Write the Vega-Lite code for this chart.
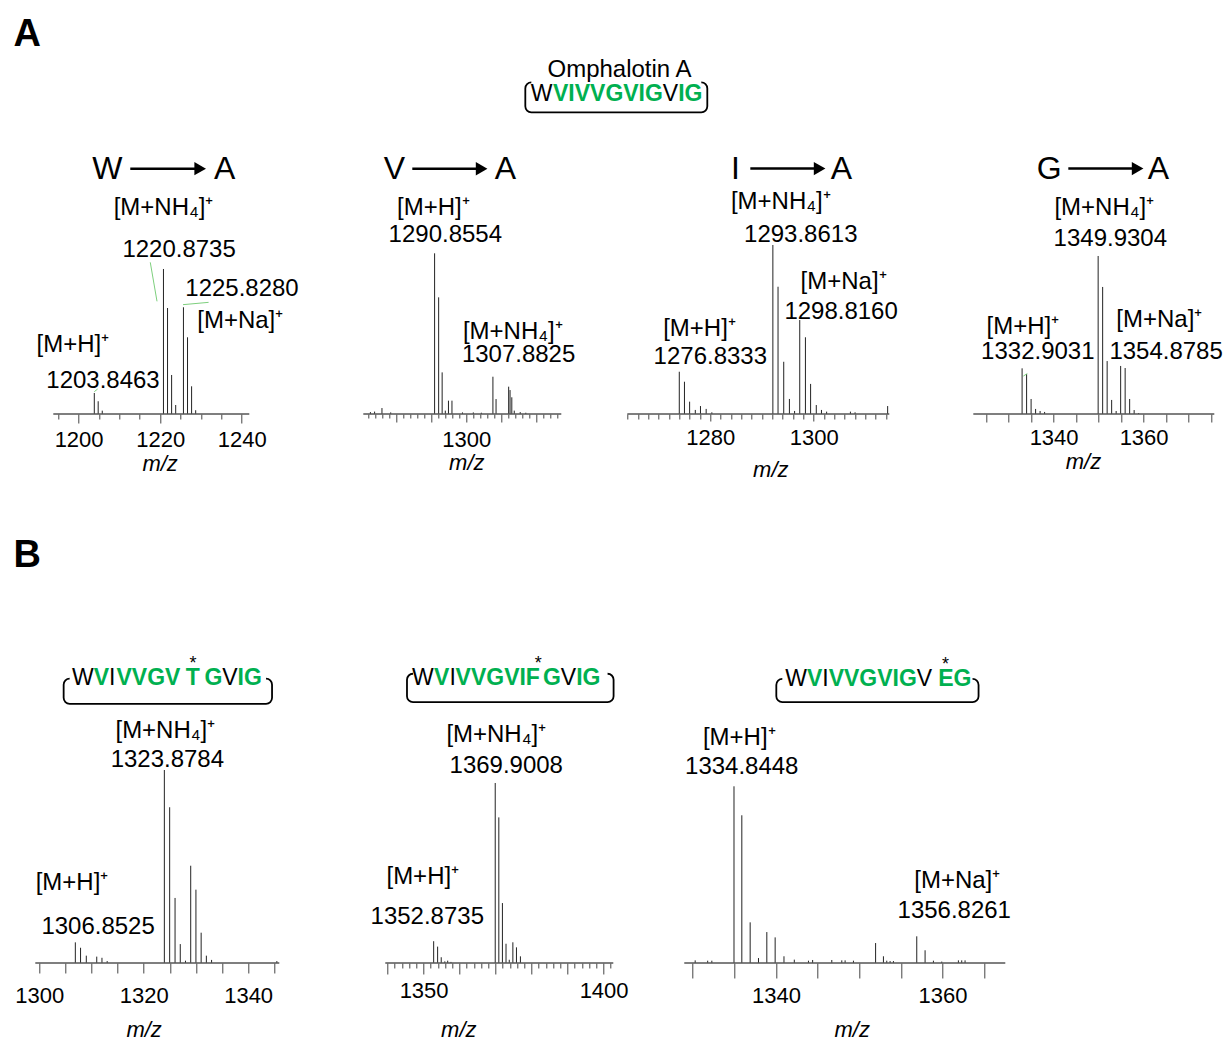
{
"$schema": "https://vega.github.io/schema/vega-lite/v6.json",
"background": "white",
"padding": {"left": 13.3, "top": 15, "right": 10, "bottom": 5},
"datasets": {
"peaks": [
{"panel":"A1","mz":1203.85,"intensity":14.5},{"panel":"A1","mz":1204.8,"intensity":8.8},{"panel":"A1","mz":1205.8,"intensity":2.3},{"panel":"A1","mz":1220.8,"intensity":100},{"panel":"A1","mz":1221.8,"intensity":73.1},{"panel":"A1","mz":1222.8,"intensity":26.9},{"panel":"A1","mz":1223.8,"intensity":6.2},{"panel":"A1","mz":1225.7,"intensity":73.6},{"panel":"A1","mz":1226.7,"intensity":52.9},{"panel":"A1","mz":1227.7,"intensity":19.1},{"panel":"A1","mz":1228.7,"intensity":2.6},
{"panel":"A2","mz":1272.6,"intensity":1.2},{"panel":"A2","mz":1273.8,"intensity":1.5},{"panel":"A2","mz":1275.9,"intensity":3.7},{"panel":"A2","mz":1278.4,"intensity":1.0},{"panel":"A2","mz":1290.94,"intensity":100},{"panel":"A2","mz":1292.1,"intensity":72.6},{"panel":"A2","mz":1293.1,"intensity":25.9},{"panel":"A2","mz":1294.0,"intensity":2.1},{"panel":"A2","mz":1294.9,"intensity":8.3},{"panel":"A2","mz":1295.9,"intensity":8.3},{"panel":"A2","mz":1298.9,"intensity":1.0},{"panel":"A2","mz":1302.0,"intensity":1.0},{"panel":"A2","mz":1304.3,"intensity":0.8},{"panel":"A2","mz":1307.6,"intensity":23.2},{"panel":"A2","mz":1308.5,"intensity":9.3},{"panel":"A2","mz":1312.1,"intensity":17.0},{"panel":"A2","mz":1312.5,"intensity":14.9},{"panel":"A2","mz":1313.0,"intensity":10.4},{"panel":"A2","mz":1313.7,"intensity":2.1},{"panel":"A2","mz":1315.4,"intensity":1.2},{"panel":"A2","mz":1317.0,"intensity":0.8},
{"panel":"A3","mz":1274.0,"intensity":25.0},{"panel":"A3","mz":1275.0,"intensity":19.1},{"panel":"A3","mz":1276.0,"intensity":7.3},{"panel":"A3","mz":1277.1,"intensity":2.4},{"panel":"A3","mz":1278.1,"intensity":4.7},{"panel":"A3","mz":1279.2,"intensity":3.0},{"panel":"A3","mz":1280.3,"intensity":1.0},{"panel":"A3","mz":1292.1,"intensity":100},{"panel":"A3","mz":1293.1,"intensity":75.3},{"panel":"A3","mz":1294.2,"intensity":30.9},{"panel":"A3","mz":1295.3,"intensity":8.9},{"panel":"A3","mz":1296.3,"intensity":1.8},{"panel":"A3","mz":1297.3,"intensity":55.6},{"panel":"A3","mz":1298.4,"intensity":45.4},{"panel":"A3","mz":1299.4,"intensity":17.8},{"panel":"A3","mz":1300.5,"intensity":5.3},{"panel":"A3","mz":1301.5,"intensity":2.4},{"panel":"A3","mz":1302.5,"intensity":1.4},{"panel":"A3","mz":1307.1,"intensity":1.4},{"panel":"A3","mz":1308.0,"intensity":1.0},{"panel":"A3","mz":1314.3,"intensity":4.7},
{"panel":"A4","mz":1333.0,"intensity":28.9},{"panel":"A4","mz":1334.0,"intensity":25.3},{"panel":"A4","mz":1335.0,"intensity":9.5},{"panel":"A4","mz":1336.0,"intensity":3.2},{"panel":"A4","mz":1337.0,"intensity":1.9},{"panel":"A4","mz":1338.0,"intensity":1.3},{"panel":"A4","mz":1349.9,"intensity":100},{"panel":"A4","mz":1350.9,"intensity":80.4},{"panel":"A4","mz":1351.9,"intensity":33.5},{"panel":"A4","mz":1352.9,"intensity":8.9},{"panel":"A4","mz":1353.9,"intensity":1.9},{"panel":"A4","mz":1354.9,"intensity":30.4},{"panel":"A4","mz":1355.9,"intensity":29.1},{"panel":"A4","mz":1356.9,"intensity":9.5},{"panel":"A4","mz":1357.9,"intensity":2.5},{"panel":"A4","mz":1358.9,"intensity":0.6},
{"panel":"B1","mz":1306.9,"intensity":10.7},{"panel":"B1","mz":1307.9,"intensity":7.9},{"panel":"B1","mz":1309.0,"intensity":3.8},{"panel":"B1","mz":1311.0,"intensity":3.3},{"panel":"B1","mz":1312.0,"intensity":2.7},{"panel":"B1","mz":1313.0,"intensity":1.0},{"panel":"B1","mz":1323.95,"intensity":100},{"panel":"B1","mz":1324.97,"intensity":80.7},{"panel":"B1","mz":1326.0,"intensity":33.7},{"panel":"B1","mz":1327.0,"intensity":9.8},{"panel":"B1","mz":1328.0,"intensity":1.2},{"panel":"B1","mz":1329.0,"intensity":50.4},{"panel":"B1","mz":1330.0,"intensity":38.0},{"panel":"B1","mz":1331.0,"intensity":15.7},{"panel":"B1","mz":1332.0,"intensity":3.8},{"panel":"B1","mz":1333.0,"intensity":1.6},{"panel":"B1","mz":1345.5,"intensity":1.0},
{"panel":"B2","mz":1352.8,"intensity":12.1},{"panel":"B2","mz":1353.9,"intensity":9.1},{"panel":"B2","mz":1354.9,"intensity":3.2},{"panel":"B2","mz":1355.9,"intensity":0.9},{"panel":"B2","mz":1356.7,"intensity":1.3},{"panel":"B2","mz":1357.6,"intensity":0.6},{"panel":"B2","mz":1369.9,"intensity":100},{"panel":"B2","mz":1370.9,"intensity":80.9},{"panel":"B2","mz":1371.9,"intensity":33.3},{"panel":"B2","mz":1372.9,"intensity":10.7},{"panel":"B2","mz":1373.8,"intensity":1.8},{"panel":"B2","mz":1374.8,"intensity":11.5},{"panel":"B2","mz":1375.8,"intensity":8.7},{"panel":"B2","mz":1376.9,"intensity":3.7},
{"panel":"B3","mz":1330.3,"intensity":1.5},{"panel":"B3","mz":1331.8,"intensity":1.3},{"panel":"B3","mz":1332.3,"intensity":1.3},{"panel":"B3","mz":1334.96,"intensity":100},{"panel":"B3","mz":1335.9,"intensity":83.6},{"panel":"B3","mz":1336.9,"intensity":23.0},{"panel":"B3","mz":1337.9,"intensity":2.8},{"panel":"B3","mz":1338.9,"intensity":17.5},{"panel":"B3","mz":1339.9,"intensity":14.5},{"panel":"B3","mz":1340.96,"intensity":3.8},{"panel":"B3","mz":1342.2,"intensity":1.9},{"panel":"B3","mz":1343.9,"intensity":1.3},{"panel":"B3","mz":1344.4,"intensity":1.7},{"panel":"B3","mz":1346.7,"intensity":1.7},{"panel":"B3","mz":1347.9,"intensity":1.5},{"panel":"B3","mz":1348.3,"intensity":1.5},{"panel":"B3","mz":1349.3,"intensity":1.3},{"panel":"B3","mz":1351.96,"intensity":11.3},{"panel":"B3","mz":1352.9,"intensity":3.8},{"panel":"B3","mz":1353.3,"intensity":1.3},{"panel":"B3","mz":1353.7,"intensity":1.1},{"panel":"B3","mz":1354.1,"intensity":1.1},{"panel":"B3","mz":1356.9,"intensity":15.1},{"panel":"B3","mz":1357.9,"intensity":7.2},{"panel":"B3","mz":1358.9,"intensity":1.3},{"panel":"B3","mz":1359.9,"intensity":0.8},{"panel":"B3","mz":1361.9,"intensity":1.5},{"panel":"B3","mz":1362.3,"intensity":1.5},{"panel":"B3","mz":1362.7,"intensity":1.5}
],
"ann": [
{"panel":"A1","role":"panel","text":"A","mz":1187.43,"y":254.0},
{"panel":"A1","role":"title","text":"W","mz":1207.03,"y":162.3},
{"panel":"A1","role":"title","text":"A","mz":1235.83,"y":162.3},
{"panel":"A1","role":"label","text":"[M+NH\u2084]\u207A","mz":1220.83,"y":137.4},
{"panel":"A1","role":"label","text":"1220.8735","mz":1224.63,"y":108.5},
{"panel":"A1","role":"label","text":"1225.8280","mz":1240.05,"y":81.6},
{"panel":"A1","role":"label","text":"[M+Na]\u207A","mz":1239.63,"y":59.5},
{"panel":"A1","role":"label","text":"[M+H]\u207A","mz":1198.58,"y":43.0},
{"panel":"A1","role":"label","text":"1203.8463","mz":1205.98,"y":18.1},
{"panel":"A2","role":"title","text":"V","mz":1279.43,"y":146.4},
{"panel":"A2","role":"title","text":"A","mz":1311.14,"y":146.4},
{"panel":"A2","role":"label","text":"[M+H]\u207A","mz":1290.57,"y":124.0},
{"panel":"A2","role":"label","text":"1290.8554","mz":1294.0,"y":107.2},
{"panel":"A2","role":"label","text":"[M+NH\u2084]\u207A","mz":1313.29,"y":46.9},
{"panel":"A2","role":"label","text":"1307.8825","mz":1314.94,"y":32.5},
{"panel":"A3","role":"title","text":"I","mz":1284.84,"y":139.2},
{"panel":"A3","role":"title","text":"A","mz":1305.34,"y":139.2},
{"panel":"A3","role":"label","text":"[M+NH\u2084]\u207A","mz":1293.64,"y":121.5},
{"panel":"A3","role":"label","text":"1293.8613","mz":1297.5,"y":102.0},
{"panel":"A3","role":"label","text":"[M+Na]\u207A","mz":1305.78,"y":74.1},
{"panel":"A3","role":"label","text":"1298.8160","mz":1305.3,"y":56.4},
{"panel":"A3","role":"label","text":"[M+H]\u207A","mz":1277.91,"y":46.3},
{"panel":"A3","role":"label","text":"1276.8333","mz":1280.0,"y":29.8},
{"panel":"A3","role":"label","text":"Omphalotin A","mz":1262.44,"y":199.2},
{"panel":"A3","role":"seq","text":"W","mz":1247.36,"y":185.4},
{"panel":"A3","role":"mut","text":"VIVVGVIG","mz":1260.2,"y":185.4},
{"panel":"A3","role":"seq","text":"V","mz":1272.31,"y":185.4},
{"panel":"A3","role":"mut","text":"IG","mz":1276.14,"y":185.4},
{"panel":"A4","role":"title","text":"G","mz":1339.04,"y":148.9},
{"panel":"A4","role":"title","text":"A","mz":1363.27,"y":148.9},
{"panel":"A4","role":"label","text":"[M+NH\u2084]\u207A","mz":1351.27,"y":126.1},
{"panel":"A4","role":"label","text":"1349.9304","mz":1352.6,"y":106.5},
{"panel":"A4","role":"label","text":"[M+H]\u207A","mz":1333.16,"y":50.8},
{"panel":"A4","role":"label","text":"1332.9031","mz":1336.49,"y":35.0},
{"panel":"A4","role":"label","text":"[M+Na]\u207A","mz":1363.49,"y":55.3},
{"panel":"A4","role":"label","text":"1354.8785","mz":1365.0,"y":35.0},
{"panel":"B1","role":"panel","text":"B","mz":1297.7,"y":205.4},
{"panel":"B1","role":"seq","text":"W","mz":1308.34,"y":143.8},
{"panel":"B1","role":"mut","text":"V","mz":1311.88,"y":143.8},
{"panel":"B1","role":"seq","text":"I","mz":1313.96,"y":143.8},
{"panel":"B1","role":"mut","text":"VVGV","mz":1320.9,"y":143.8},
{"panel":"B1","role":"mut","text":"T","mz":1329.41,"y":143.8},
{"panel":"B1","role":"mut","text":"G","mz":1333.33,"y":143.8},
{"panel":"B1","role":"seq","text":"V","mz":1336.5,"y":143.8},
{"panel":"B1","role":"mut","text":"IG","mz":1340.29,"y":143.8},
{"panel":"B1","role":"star","text":"*","mz":1329.44,"y":152.1},
{"panel":"B1","role":"label","text":"[M+NH\u2084]\u207A","mz":1324.14,"y":116.8},
{"panel":"B1","role":"label","text":"1323.8784","mz":1324.52,"y":101.8},
{"panel":"B1","role":"label","text":"[M+H]\u207A","mz":1306.26,"y":37.6},
{"panel":"B1","role":"label","text":"1306.8525","mz":1311.26,"y":15.1},
{"panel":"B2","role":"seq","text":"W","mz":1349.76,"y":154.2},
{"panel":"B2","role":"mut","text":"V","mz":1355.0,"y":154.2},
{"panel":"B2","role":"seq","text":"I","mz":1358.11,"y":154.2},
{"panel":"B2","role":"mut","text":"VVGVIF","mz":1370.6,"y":154.2},
{"panel":"B2","role":"mut","text":"G","mz":1385.65,"y":154.2},
{"panel":"B2","role":"seq","text":"V","mz":1390.26,"y":154.2},
{"panel":"B2","role":"mut","text":"IG","mz":1395.76,"y":154.2},
{"panel":"B2","role":"star","text":"*","mz":1381.86,"y":163.1},
{"panel":"B2","role":"label","text":"[M+NH\u2084]\u207A","mz":1370.19,"y":122.5},
{"panel":"B2","role":"label","text":"1369.9008","mz":1372.97,"y":105.8},
{"panel":"B2","role":"label","text":"[M+H]\u207A","mz":1349.78,"y":44.0},
{"panel":"B2","role":"label","text":"1352.8735","mz":1351.03,"y":21.8},
{"panel":"B3","role":"seq","text":"W","mz":1342.42,"y":157.0},
{"panel":"B3","role":"mut","text":"V","mz":1344.64,"y":157.0},
{"panel":"B3","role":"seq","text":"I","mz":1345.95,"y":157.0},
{"panel":"B3","role":"mut","text":"VVGVIG","mz":1351.62,"y":157.0},
{"panel":"B3","role":"seq","text":"V","mz":1357.83,"y":157.0},
{"panel":"B3","role":"mut","text":"EG","mz":1361.48,"y":157.0},
{"panel":"B3","role":"star","text":"*","mz":1360.36,"y":166.1},
{"panel":"B3","role":"label","text":"[M+H]\u207A","mz":1335.59,"y":123.1},
{"panel":"B3","role":"label","text":"1334.8448","mz":1335.89,"y":107.2},
{"panel":"B3","role":"label","text":"[M+Na]\u207A","mz":1361.76,"y":42.2},
{"panel":"B3","role":"label","text":"1356.8261","mz":1361.4,"y":25.2}
]
},
"spacing": 519,
"bounds": "flush",
"vconcat": [
{
"spacing": 0,
"bounds": "flush",
"hconcat": [
{
"width": 214, "height": 170,
"layer": [
{"data":{"name":"peaks"},"transform":[{"filter":"datum.panel === 'A1'"}],"mark":{"type":"rule","color":"#222222","strokeWidth":1},
"encoding":{"x":{"field":"mz","type":"quantitative","scale":{"domain":[1189.39,1241.84],"nice":false,"zero":false},"axis":{"title":"m/z","values":[1195,1200,1205,1210,1215,1220,1225,1230,1235,1240],"tickCount":500,"format":"d","labelExpr":"datum.value % 20 === 0 ? datum.label : ''","labelOverlap":false,"tickSize":{"condition":{"test":"datum.value % 20 === 0","value":9},"value":5},"labelPadding":23.7,"titleX":124.3,"titleY":56}},
"y":{"field":"intensity","type":"quantitative","scale":{"domain":[0,117.24],"nice":false},"axis":null},"y2":{"datum":0}}},
{"data":{"values":[{}]},"mark":{"type":"rule","color":"#555555","strokeWidth":1.5},"encoding":{"x":{"datum":1193.8},"x2":{"datum":1241.84},"y":{"datum":0,"axis":null}}},
{"data":{"values":[{}]},"mark":{"type":"rule","color":"black","strokeWidth":2.5},"encoding":{"x":{"datum":1212.67},"x2":{"datum":1229.8},"y":{"datum":169.2,"axis":null}}},
{"data":{"values":[{}]},"mark":{"type":"point","shape":"triangle-right","filled":true,"color":"black","opacity":1,"size":180},"encoding":{"x":{"datum":1229.8},"y":{"datum":169.2,"axis":null}}},
{"data":{"values":[{}]},"mark":{"type":"rule","color":"#7ccf7c","strokeWidth":1},"encoding":{"x":{"datum":1217.57},"x2":{"datum":1219.22},"y":{"datum":104.6,"axis":null},"y2":{"datum":77.7}}},
{"data":{"values":[{}]},"mark":{"type":"rule","color":"#7ccf7c","strokeWidth":1},"encoding":{"x":{"datum":1225.59},"x2":{"datum":1231.86},"y":{"datum":75.4,"axis":null},"y2":{"datum":77.0}}},
{"data":{"values":[{}]},"mark":{"type":"rule","color":"#7ccf7c","strokeWidth":1},"encoding":{"x":{"datum":1203.85},"x2":{"datum":1204.66},"y":{"datum":15.4,"axis":null},"y2":{"datum":17.2}}},
{"data":{"name":"ann"},"transform":[{"filter":"datum.panel === 'A1' && datum.role !== 'mut' && datum.role !== 'panel'"}],"mark":{"type":"text","font":"Liberation Sans","align":"center","baseline":"alphabetic","color":"black"},
"encoding":{"x":{"field":"mz","type":"quantitative"},"y":{"field":"y","type":"quantitative","axis":null},"text":{"field":"text","type":"nominal"},"size":{"condition":[{"test":"datum.role === 'title'","value":32},{"test":"datum.role === 'star'","value":18},{"test":"datum.role === 'seq'","value":23}],"value":24}}},
{"data":{"name":"ann"},"transform":[{"filter":"datum.panel === 'A1' && (datum.role === 'mut' || datum.role === 'panel')"}],"mark":{"type":"text","font":"Liberation Sans","fontWeight":"bold","align":"center","baseline":"alphabetic"},
"encoding":{"x":{"field":"mz","type":"quantitative"},"y":{"field":"y","type":"quantitative","axis":null},"text":{"field":"text","type":"nominal"},"size":{"condition":{"test":"datum.role === 'panel'","value":38},"value":23},"color":{"condition":{"test":"datum.role === 'mut'","value":"#00B050"},"value":"black"}}}
]
},
{
"width": 312, "height": 170,
"layer": [
{"data":{"name":"peaks"},"transform":[{"filter":"datum.panel === 'A2'"}],"mark":{"type":"rule","color":"#222222","strokeWidth":1},
"encoding":{"x":{"field":"mz","type":"quantitative","scale":{"domain":[1238.0,1327.14],"nice":false,"zero":false},"axis":{"title":"m/z","values":[1272,1274,1276,1278,1280,1282,1284,1286,1288,1290,1292,1294,1296,1298,1300,1302,1304,1306,1308,1310,1312,1314,1316,1318,1320,1322,1324,1326],"tickCount":500,"format":"d","labelExpr":"datum.value === 1300 ? datum.label : ''","labelOverlap":false,"tickSize":{"condition":{"test":"datum.value % 10 === 0","value":8},"value":4},"labelPadding":24.4,"titleX":217,"titleY":55.5}},
"y":{"field":"intensity","type":"quantitative","scale":{"domain":[0,105.79],"nice":false},"axis":null},"y2":{"datum":0}}},
{"data":{"values":[{}]},"mark":{"type":"rule","color":"#555555","strokeWidth":1.5},"encoding":{"x":{"datum":1270.57},"x2":{"datum":1327.14},"y":{"datum":0,"axis":null}}},
{"data":{"values":[{}]},"mark":{"type":"rule","color":"black","strokeWidth":2.5},"encoding":{"x":{"datum":1284.57},"x2":{"datum":1304.37},"y":{"datum":152.6,"axis":null}}},
{"data":{"values":[{}]},"mark":{"type":"point","shape":"triangle-right","filled":true,"color":"black","opacity":1,"size":180},"encoding":{"x":{"datum":1304.37},"y":{"datum":152.6,"axis":null}}},
{"data":{"name":"ann"},"transform":[{"filter":"datum.panel === 'A2' && datum.role !== 'mut' && datum.role !== 'panel'"}],"mark":{"type":"text","font":"Liberation Sans","align":"center","baseline":"alphabetic","color":"black"},
"encoding":{"x":{"field":"mz","type":"quantitative"},"y":{"field":"y","type":"quantitative","axis":null},"text":{"field":"text","type":"nominal"},"size":{"condition":[{"test":"datum.role === 'title'","value":32},{"test":"datum.role === 'star'","value":18},{"test":"datum.role === 'seq'","value":23}],"value":24}}}
]
},
{
"width": 328, "height": 170,
"layer": [
{"data":{"name":"peaks"},"transform":[{"filter":"datum.panel === 'A3'"}],"mark":{"type":"rule","color":"#222222","strokeWidth":1},
"encoding":{"x":{"field":"mz","type":"quantitative","scale":{"domain":[1251.18,1314.62],"nice":false,"zero":false},"axis":{"title":"m/z","values":[1264,1266,1268,1270,1272,1274,1276,1278,1280,1282,1284,1286,1288,1290,1292,1294,1296,1298,1300,1302,1304,1306,1308,1310,1312,1314],"tickCount":500,"format":"d","labelExpr":"datum.value % 20 === 0 ? datum.label : ''","labelOverlap":false,"tickSize":{"condition":{"test":"datum.value % 20 === 0","value":7},"value":5},"labelPadding":23,"titleX":209,"titleY":62}},
"y":{"field":"intensity","type":"quantitative","scale":{"domain":[0,100.59],"nice":false},"axis":null},"y2":{"datum":0}}},
{"data":{"values":[{}]},"mark":{"type":"rule","color":"#555555","strokeWidth":1.5},"encoding":{"x":{"datum":1263.95},"x2":{"datum":1314.62},"y":{"datum":0,"axis":null}}},
{"data":{"values":[{}]},"mark":{"type":"rule","color":"black","strokeWidth":2.5},"encoding":{"x":{"datum":1287.74},"x2":{"datum":1301.14},"y":{"datum":145.2,"axis":null}}},
{"data":{"values":[{}]},"mark":{"type":"point","shape":"triangle-right","filled":true,"color":"black","opacity":1,"size":180},"encoding":{"x":{"datum":1301.14},"y":{"datum":145.2,"axis":null}}},
{"data":{"values":[{}]},"mark":{"type":"rect","fillOpacity":0,"stroke":"black","strokeWidth":1.8,"cornerRadius":6},"encoding":{"x":{"datum":1244.22},"x2":{"datum":1279.42},"y":{"datum":196.2,"axis":null},"y2":{"datum":178.5}}},
{"data":{"values":[{}]},"mark":{"type":"rect","color":"white","opacity":1},"encoding":{"x":{"datum":1245.38},"x2":{"datum":1278.26},"y":{"datum":198.0,"axis":null},"y2":{"datum":194.4}}},
{"data":{"name":"ann"},"transform":[{"filter":"datum.panel === 'A3' && datum.role !== 'mut' && datum.role !== 'panel'"}],"mark":{"type":"text","font":"Liberation Sans","align":"center","baseline":"alphabetic","color":"black"},
"encoding":{"x":{"field":"mz","type":"quantitative"},"y":{"field":"y","type":"quantitative","axis":null},"text":{"field":"text","type":"nominal"},"size":{"condition":[{"test":"datum.role === 'title'","value":32},{"test":"datum.role === 'star'","value":18},{"test":"datum.role === 'seq'","value":23}],"value":24}}},
{"data":{"name":"ann"},"transform":[{"filter":"datum.panel === 'A3' && (datum.role === 'mut' || datum.role === 'panel')"}],"mark":{"type":"text","font":"Liberation Sans","fontWeight":"bold","align":"center","baseline":"alphabetic"},
"encoding":{"x":{"field":"mz","type":"quantitative"},"y":{"field":"y","type":"quantitative","axis":null},"text":{"field":"text","type":"nominal"},"size":{"condition":{"test":"datum.role === 'panel'","value":38},"value":23},"color":{"condition":{"test":"datum.role === 'mut'","value":"#00B050"},"value":"black"}}}
]
},
{
"width": 325, "height": 170,
"layer": [
{"data":{"name":"peaks"},"transform":[{"filter":"datum.panel === 'A4'"}],"mark":{"type":"rule","color":"#222222","strokeWidth":1},
"encoding":{"x":{"field":"mz","type":"quantitative","scale":{"domain":[1303.49,1375.71],"nice":false,"zero":false},"axis":{"title":"m/z","values":[1325,1330,1335,1340,1345,1350,1355,1360,1365,1370,1375],"tickCount":500,"format":"d","labelExpr":"datum.value % 20 === 0 ? datum.label : ''","labelOverlap":false,"tickSize":8,"labelPadding":22,"titleX":193.7,"titleY":54.5}},
"y":{"field":"intensity","type":"quantitative","scale":{"domain":[0,107.59],"nice":false},"axis":null},"y2":{"datum":0}}},
{"data":{"values":[{}]},"mark":{"type":"rule","color":"#555555","strokeWidth":1.5},"encoding":{"x":{"datum":1322.16},"x2":{"datum":1375.71},"y":{"datum":0,"axis":null}}},
{"data":{"values":[{}]},"mark":{"type":"rule","color":"black","strokeWidth":2.5},"encoding":{"x":{"datum":1343.27},"x2":{"datum":1358.67},"y":{"datum":155.3,"axis":null}}},
{"data":{"values":[{}]},"mark":{"type":"point","shape":"triangle-right","filled":true,"color":"black","opacity":1,"size":180},"encoding":{"x":{"datum":1358.67},"y":{"datum":155.3,"axis":null}}},
{"data":{"values":[{}]},"mark":{"type":"rule","color":"#7ccf7c","strokeWidth":1},"encoding":{"x":{"datum":1333.27},"x2":{"datum":1334.16},"y":{"datum":24.0,"axis":null},"y2":{"datum":25.6}}},
{"data":{"name":"ann"},"transform":[{"filter":"datum.panel === 'A4' && datum.role !== 'mut' && datum.role !== 'panel'"}],"mark":{"type":"text","font":"Liberation Sans","align":"center","baseline":"alphabetic","color":"black"},
"encoding":{"x":{"field":"mz","type":"quantitative"},"y":{"field":"y","type":"quantitative","axis":null},"text":{"field":"text","type":"nominal"},"size":{"condition":[{"test":"datum.role === 'title'","value":32},{"test":"datum.role === 'star'","value":18},{"test":"datum.role === 'seq'","value":23}],"value":24}}}
]
}
]
},
{
"spacing": 0,
"bounds": "flush",
"hconcat": [
{
"width": 244, "height": 200,
"layer": [
{"data":{"name":"peaks"},"transform":[{"filter":"datum.panel === 'B1'"}],"mark":{"type":"rule","color":"#222222","strokeWidth":1},
"encoding":{"x":{"field":"mz","type":"quantitative","scale":{"domain":[1299.23,1345.97],"nice":false,"zero":false},"axis":{"title":"m/z","values":[1300,1305,1310,1315,1320,1325,1330,1335,1340,1345],"tickCount":500,"format":"d","labelExpr":"datum.value % 20 === 0 ? datum.label : ''","labelOverlap":false,"tickSize":10,"labelPadding":29.2,"titleX":108.3,"titleY":73.5}},
"y":{"field":"intensity","type":"quantitative","scale":{"domain":[0,103.63],"nice":false},"axis":null},"y2":{"datum":0}}},
{"data":{"values":[{}]},"mark":{"type":"rule","color":"#555555","strokeWidth":1.5},"encoding":{"x":{"datum":1299.23},"x2":{"datum":1345.97},"y":{"datum":0,"axis":null}}},
{"data":{"values":[{}]},"mark":{"type":"rect","fillOpacity":0,"stroke":"black","strokeWidth":1.8,"cornerRadius":6},"encoding":{"x":{"datum":1304.66},"x2":{"datum":1344.58},"y":{"datum":147.3,"axis":null},"y2":{"datum":134.3}}},
{"data":{"values":[{}]},"mark":{"type":"rect","color":"white","opacity":1},"encoding":{"x":{"datum":1305.81},"x2":{"datum":1343.43},"y":{"datum":148.9,"axis":null},"y2":{"datum":145.7}}},
{"data":{"name":"ann"},"transform":[{"filter":"datum.panel === 'B1' && datum.role !== 'mut' && datum.role !== 'panel'"}],"mark":{"type":"text","font":"Liberation Sans","align":"center","baseline":"alphabetic","color":"black"},
"encoding":{"x":{"field":"mz","type":"quantitative"},"y":{"field":"y","type":"quantitative","axis":null},"text":{"field":"text","type":"nominal"},"size":{"condition":[{"test":"datum.role === 'title'","value":32},{"test":"datum.role === 'star'","value":18},{"test":"datum.role === 'seq'","value":23}],"value":24}}},
{"data":{"name":"ann"},"transform":[{"filter":"datum.panel === 'B1' && (datum.role === 'mut' || datum.role === 'panel')"}],"mark":{"type":"text","font":"Liberation Sans","fontWeight":"bold","align":"center","baseline":"alphabetic"},
"encoding":{"x":{"field":"mz","type":"quantitative"},"y":{"field":"y","type":"quantitative","axis":null},"text":{"field":"text","type":"nominal"},"size":{"condition":{"test":"datum.role === 'panel'","value":38},"value":23},"color":{"condition":{"test":"datum.role === 'mut'","value":"#00B050"},"value":"black"}}}
]
},
{
"width": 334, "height": 200,
"layer": [
{"data":{"name":"peaks"},"transform":[{"filter":"datum.panel === 'B2'"}],"mark":{"type":"rule","color":"#222222","strokeWidth":1},
"encoding":{"x":{"field":"mz","type":"quantitative","scale":{"domain":[1309.92,1402.7],"nice":false,"zero":false},"axis":{"title":"m/z","values":[1340,1342,1344,1346,1348,1350,1352,1354,1356,1358,1360,1362,1364,1366,1368,1370,1372,1374,1376,1378,1380,1382,1384,1386,1388,1390,1392,1394,1396,1398,1400,1402],"tickCount":500,"format":"d","labelExpr":"datum.value % 50 === 0 ? datum.label : ''","labelOverlap":false,"tickSize":{"condition":{"test":"datum.value % 10 === 0","value":11},"value":5},"labelPadding":23.2,"titleX":179,"titleY":73.5}},
"y":{"field":"intensity","type":"quantitative","scale":{"domain":[0,111.11],"nice":false},"axis":null},"y2":{"datum":0}}},
{"data":{"values":[{}]},"mark":{"type":"rule","color":"#555555","strokeWidth":1.5},"encoding":{"x":{"datum":1339.36},"x2":{"datum":1402.7},"y":{"datum":0,"axis":null}}},
{"data":{"values":[{}]},"mark":{"type":"rect","fillOpacity":0,"stroke":"black","strokeWidth":1.8,"cornerRadius":6},"encoding":{"x":{"datum":1345.39},"x2":{"datum":1402.78},"y":{"datum":160.7,"axis":null},"y2":{"datum":144.9}}},
{"data":{"values":[{}]},"mark":{"type":"rect","color":"white","opacity":1},"encoding":{"x":{"datum":1347.06},"x2":{"datum":1401.11},"y":{"datum":162.4,"axis":null},"y2":{"datum":159.0}}},
{"data":{"name":"ann"},"transform":[{"filter":"datum.panel === 'B2' && datum.role !== 'mut' && datum.role !== 'panel'"}],"mark":{"type":"text","font":"Liberation Sans","align":"center","baseline":"alphabetic","color":"black"},
"encoding":{"x":{"field":"mz","type":"quantitative"},"y":{"field":"y","type":"quantitative","axis":null},"text":{"field":"text","type":"nominal"},"size":{"condition":[{"test":"datum.role === 'title'","value":32},{"test":"datum.role === 'star'","value":18},{"test":"datum.role === 'seq'","value":23}],"value":24}}},
{"data":{"name":"ann"},"transform":[{"filter":"datum.panel === 'B2' && (datum.role === 'mut' || datum.role === 'panel')"}],"mark":{"type":"text","font":"Liberation Sans","fontWeight":"bold","align":"center","baseline":"alphabetic"},
"encoding":{"x":{"field":"mz","type":"quantitative"},"y":{"field":"y","type":"quantitative","axis":null},"text":{"field":"text","type":"nominal"},"size":{"condition":{"test":"datum.role === 'panel'","value":38},"value":23},"color":{"condition":{"test":"datum.role === 'mut'","value":"#00B050"},"value":"black"}}}
]
},
{
"width": 392, "height": 200,
"layer": [
{"data":{"name":"peaks"},"transform":[{"filter":"datum.panel === 'B3'"}],"mark":{"type":"rule","color":"#222222","strokeWidth":1},
"encoding":{"x":{"field":"mz","type":"quantitative","scale":{"domain":[1320.47,1367.53],"nice":false,"zero":false},"axis":{"title":"m/z","values":[1330,1335,1340,1345,1350,1355,1360,1365],"tickCount":500,"format":"d","labelExpr":"datum.value % 20 === 0 ? datum.label : ''","labelOverlap":false,"tickSize":15,"labelPadding":24.2,"titleX":238.4,"titleY":73.5}},
"y":{"field":"intensity","type":"quantitative","scale":{"domain":[0,113.19],"nice":false},"axis":null},"y2":{"datum":0}}},
{"data":{"values":[{}]},"mark":{"type":"rule","color":"#555555","strokeWidth":1.5},"encoding":{"x":{"datum":1328.99},"x2":{"datum":1367.53},"y":{"datum":0,"axis":null}}},
{"data":{"values":[{}]},"mark":{"type":"rect","fillOpacity":0,"stroke":"black","strokeWidth":1.8,"cornerRadius":6},"encoding":{"x":{"datum":1340.04},"x2":{"datum":1364.32},"y":{"datum":160.8,"axis":null},"y2":{"datum":147.6}}},
{"data":{"values":[{}]},"mark":{"type":"rect","color":"white","opacity":1},"encoding":{"x":{"datum":1340.76},"x2":{"datum":1363.6},"y":{"datum":162.5,"axis":null},"y2":{"datum":159.1}}},
{"data":{"name":"ann"},"transform":[{"filter":"datum.panel === 'B3' && datum.role !== 'mut' && datum.role !== 'panel'"}],"mark":{"type":"text","font":"Liberation Sans","align":"center","baseline":"alphabetic","color":"black"},
"encoding":{"x":{"field":"mz","type":"quantitative"},"y":{"field":"y","type":"quantitative","axis":null},"text":{"field":"text","type":"nominal"},"size":{"condition":[{"test":"datum.role === 'title'","value":32},{"test":"datum.role === 'star'","value":18},{"test":"datum.role === 'seq'","value":23}],"value":24}}},
{"data":{"name":"ann"},"transform":[{"filter":"datum.panel === 'B3' && (datum.role === 'mut' || datum.role === 'panel')"}],"mark":{"type":"text","font":"Liberation Sans","fontWeight":"bold","align":"center","baseline":"alphabetic"},
"encoding":{"x":{"field":"mz","type":"quantitative"},"y":{"field":"y","type":"quantitative","axis":null},"text":{"field":"text","type":"nominal"},"size":{"condition":{"test":"datum.role === 'panel'","value":38},"value":23},"color":{"condition":{"test":"datum.role === 'mut'","value":"#00B050"},"value":"black"}}}
]
}
]
}
],
"config": {
"view": {"stroke": null},
"font": "Liberation Sans",
"axis": {"domain": false, "grid": false, "tickColor": "#444444", "tickWidth": 1, "labelFont": "Liberation Sans", "labelFontSize": 22, "labelColor": "black", "labelBaseline": "alphabetic", "labelOverlap": false, "labelFlush": false, "labelAngle": 0, "titleFont": "Liberation Sans", "titleFontSize": 22, "titleFontStyle": "italic", "titleFontWeight": "normal", "titleColor": "black", "titleBaseline": "alphabetic", "titleAlign": "center"},
"text": {"font": "Liberation Sans"}
}
}
